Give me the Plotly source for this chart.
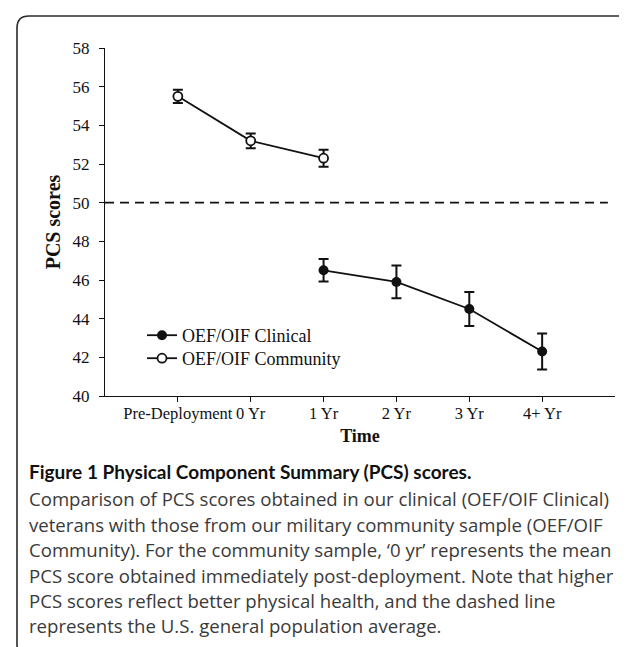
import plotly.graph_objects as go

# ---- data ----
categories = ["Pre-Deployment", "0 Yr", "1 Yr", "2 Yr", "3 Yr", "4+ Yr"]

community_x = ["Pre-Deployment", "0 Yr", "1 Yr"]
community_y = [55.5, 53.2, 52.3]
community_err = [0.34, 0.38, 0.44]

clinical_x = ["1 Yr", "2 Yr", "3 Yr", "4+ Yr"]
clinical_y = [46.5, 45.9, 44.5, 42.3]
clinical_err = [0.58, 0.85, 0.88, 0.93]

population_avg = 50
y_ticks = [40, 42, 44, 46, 48, 50, 52, 54, 56, 58]

caption_title = "Figure 1 Physical Component Summary (PCS) scores."
caption_lines = [
    "Comparison of PCS scores obtained in our clinical (OEF/OIF Clinical)",
    "veterans with those from our military community sample (OEF/OIF",
    "Community). For the community sample, \u20180 yr\u2019 represents the mean",
    "PCS score obtained immediately post-deployment. Note that higher",
    "PCS scores reflect better physical health, and the dashed line",
    "represents the U.S. general population average.",
]

# ---- layout geometry (pixels) ----
W, H = 627, 647
ML, MR, MT, MB = 97, 20, 40, 259
PW = W - ML - MR
PH = H - MT - MB

def px(x):
    return (x - ML) / PW

def py(y):
    return (H - MB - y) / PH

serif = "Liberation Serif, Times New Roman, serif"

fig = go.Figure()

fig.add_trace(go.Scatter(
    x=clinical_x, y=clinical_y, name="OEF/OIF Clinical",
    mode="lines+markers", legend="legend",
    line=dict(color="#111111", width=1.8),
    marker=dict(symbol="circle", size=10, color="#111111"),
    error_y=dict(type="data", array=clinical_err, color="#111111", thickness=2, width=5),
))
fig.add_trace(go.Scatter(
    x=community_x, y=community_y, name="OEF/OIF Community",
    mode="lines+markers", legend="legend2",
    line=dict(color="#111111", width=1.8),
    marker=dict(symbol="circle", size=9, color="white", line=dict(color="#111111", width=1.8)),
    error_y=dict(type="data", array=community_err, color="#111111", thickness=2, width=5),
))

# dashed population average
fig.add_shape(type="line", xref="paper", yref="y", x0=0, x1=0.986,
              y0=population_avg, y1=population_avg,
              line=dict(color="#111111", width=1.8, dash="9px,6px"))

# border frame (rounded at left corners, runs off right/bottom)
pts = [(21, 649), (9, 649), (9, 637), (9, 20), (9, 8), (21, 8), (650, 8)]
p = [(px(a), py(b)) for a, b in pts]
path = (f"M {p[0][0]},{p[0][1]} Q {p[1][0]},{p[1][1]} {p[2][0]},{p[2][1]} "
        f"L {p[3][0]},{p[3][1]} Q {p[4][0]},{p[4][1]} {p[5][0]},{p[5][1]} "
        f"L {p[6][0]},{p[6][1]}")
fig.add_shape(type="path", xref="paper", yref="paper", path=path,
              line=dict(color="#2a2a2a", width=1.6))

# caption
fig.add_annotation(text="<b>" + caption_title + "</b>", xref="paper", yref="paper",
                   x=px(19), y=py(463), xanchor="left", yanchor="middle", showarrow=False,
                   font=dict(family="Lato", size=19, color="#111111"))
line_y = [490, 516, 541, 567, 592, 617]
for txt, yy in zip(caption_lines, line_y):
    fig.add_annotation(text=txt, xref="paper", yref="paper",
                       x=px(19), y=py(yy), xanchor="left", yanchor="middle", showarrow=False,
                       font=dict(family="Open Sans", size=18.6, color="#3a3a3a"))

leg_common = dict(xanchor="left", yanchor="top",
                  font=dict(family=serif, size=18, color="#111111"),
                  bgcolor="rgba(0,0,0,0)", tracegroupgap=0, itemwidth=30)

fig.update_layout(
    width=W, height=H,
    margin=dict(l=ML, r=MR, t=MT, b=MB),
    paper_bgcolor="white", plot_bgcolor="white",
    showlegend=True,
    legend=dict(x=px(134), y=py(309), **leg_common),
    legend2=dict(x=px(134), y=py(332), **leg_common),
    font=dict(family=serif, color="#111111"),
)
fig.update_xaxes(type="category", categoryorder="array", categoryarray=categories,
                 range=[-1, 6], showline=True, linecolor="#111111", linewidth=1.3,
                 ticks="outside", ticklen=5, tickcolor="#111111", showgrid=False, zeroline=False,
                 ticklabelstandoff=-3,
                 tickfont=dict(family=serif, size=16.5, color="#111111"),
                 title=dict(text="<b>Time</b>", font=dict(family=serif, size=18, color="#111111"), standoff=7))
fig.update_yaxes(range=[40, 58], tickvals=y_ticks, showline=True, linecolor="#111111", linewidth=1.3,
                 ticks="outside", ticklen=5, tickcolor="#111111", showgrid=False, zeroline=False,
                 ticklabelstandoff=6,
                 tickfont=dict(family=serif, size=17, color="#111111"),
                 title=dict(text="<b>PCS scores</b>", font=dict(family=serif, size=20, color="#111111"), standoff=6))

fig.write_html("out.html")
